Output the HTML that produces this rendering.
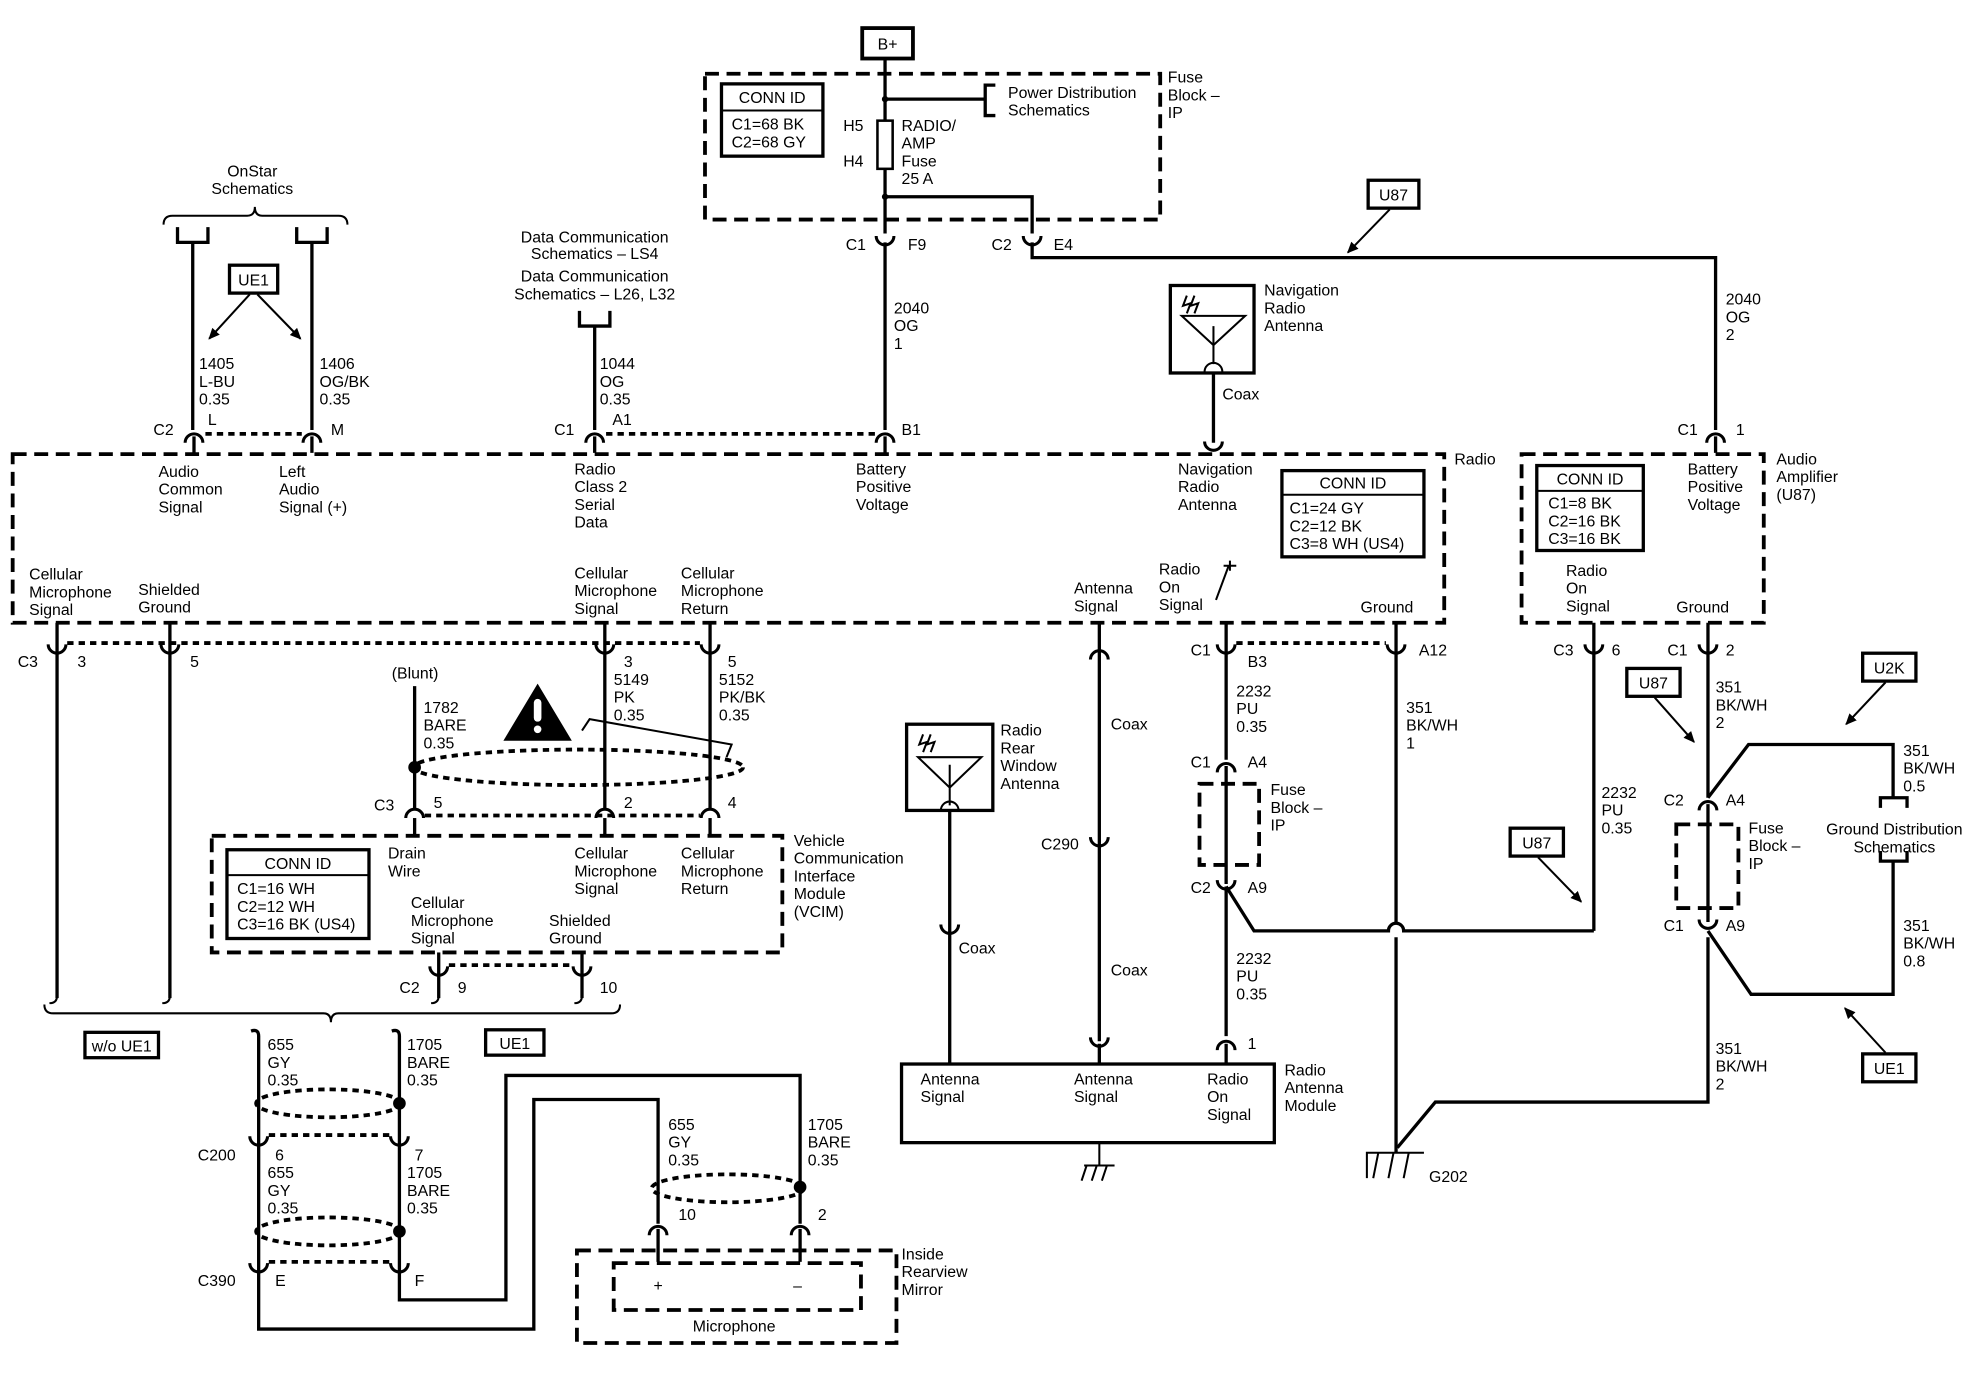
<!DOCTYPE html>
<html><head><meta charset="utf-8"><style>
html,body{margin:0;padding:0;background:#fff;}
svg{display:block;}
text{font-family:"Liberation Sans",sans-serif;font-size:12.5px;fill:#000;}
.w{stroke:#000;stroke-width:2.6;fill:none;}
.t{stroke:#000;stroke-width:1.6;fill:none;}
.d{stroke:#000;stroke-width:3;fill:none;stroke-dasharray:11,6;}
.dt{stroke:#000;stroke-width:3;fill:none;stroke-dasharray:5,4;}
.c{text-anchor:middle;}
</style></head><body>
<svg width="1988" height="1392" viewBox="0 0 1560 1092" xmlns="http://www.w3.org/2000/svg">
<defs>
<path id="up" d="M-7,5 A7,7 0 0 1 7,5" stroke="#000" stroke-width="2.4" fill="none"/>
<path id="dn" d="M-7,-5 A7,7 0 0 0 7,-5" stroke="#000" stroke-width="2.4" fill="none"/>
<marker id="ar" markerWidth="10" markerHeight="10" refX="8" refY="5" orient="auto" markerUnits="userSpaceOnUse"><path d="M0,1 L9,5 L0,9 z" fill="#000"/></marker>
</defs>
<g transform="translate(-1,-1) scale(0.995)">
<!-- B+ and fuse block -->
<rect x="681" y="23" width="40" height="24" fill="none" stroke="#000" stroke-width="3"/>
<text x="701" y="40" class="c">B+</text>
<rect x="557" y="59" width="359" height="115" class="d"/>
<text x="922" y="66">Fuse</text><text x="922" y="80">Block –</text><text x="922" y="94">IP</text>
<rect x="570" y="67" width="80" height="57" fill="none" stroke="#000" stroke-width="2.6"/>
<line x1="570" y1="88" x2="650" y2="88" class="t"/>
<text x="610" y="82" class="c">CONN ID</text>
<text x="578" y="103">C1=68 BK</text><text x="578" y="117">C2=68 GY</text>
<line x1="699" y1="47" x2="699" y2="96" class="w"/>
<line x1="699" y1="134" x2="699" y2="185" class="w"/>
<circle cx="699" cy="79" r="2.5"/>
<line x1="699" y1="79" x2="778" y2="79" class="w"/>
<path d="M786,68 L778,68 L778,92 L786,92" class="w"/>
<text x="796" y="78">Power Distribution</text><text x="796" y="92">Schematics</text>
<rect x="693" y="96" width="12" height="38" fill="none" stroke="#000" stroke-width="2"/>
<text x="666" y="104">H5</text><text x="666" y="132">H4</text>
<text x="712" y="104">RADIO/</text><text x="712" y="118">AMP</text><text x="712" y="132">Fuse</text><text x="712" y="146">25 A</text>
<circle cx="699" cy="156" r="2.5"/>
<path d="M699,156 L815,156 L815,185" class="w"/>
<use href="#dn" x="699" y="192"/><use href="#dn" x="815" y="192"/>
<text x="668" y="198">C1</text><text x="717" y="198">F9</text>
<text x="783" y="198">C2</text><text x="832" y="198">E4</text>
<line x1="699" y1="192" x2="699" y2="340" class="w"/>
<path d="M815,192 L815,204 L1354,204 L1354,340" class="w"/>
<rect x="1080" y="143" width="40" height="22" fill="none" stroke="#000" stroke-width="2.6"/>
<text x="1100" y="159" class="c">U87</text>
<line x1="1097" y1="166" x2="1064" y2="200" class="t" marker-end="url(#ar)"/>
<text x="706" y="248">2040</text><text x="706" y="262">OG</text><text x="706" y="276">1</text>
<text x="1362" y="241">2040</text><text x="1362" y="255">OG</text><text x="1362" y="269">2</text>

<!-- OnStar -->
<text x="200" y="140" class="c">OnStar</text><text x="200" y="154" class="c">Schematics</text>
<path d="M130,178 Q130,171 137,171 L196,171 Q202,171 202,164 Q202,171 208,171 L268,171 Q275,171 275,178" class="t" stroke-width="2"/>
<path d="M141,180 L141,192 L165,192 L165,180" class="w"/>
<path d="M235,180 L235,192 L259,192 L259,180" class="w"/>
<line x1="153" y1="192" x2="153" y2="340" class="w"/>
<line x1="247" y1="192" x2="247" y2="340" class="w"/>
<rect x="182" y="210" width="38" height="22" fill="none" stroke="#000" stroke-width="2.6"/>
<text x="201" y="226" class="c">UE1</text>
<line x1="198" y1="233" x2="166" y2="268" class="t" marker-end="url(#ar)"/>
<line x1="204" y1="233" x2="238" y2="268" class="t" marker-end="url(#ar)"/>
<text x="158" y="292">1405</text><text x="158" y="306">L-BU</text><text x="158" y="320">0.35</text>
<text x="253" y="292">1406</text><text x="253" y="306">OG/BK</text><text x="253" y="320">0.35</text>
<use href="#up" x="154" y="345"/><use href="#up" x="247" y="345"/>
<text x="122" y="344">C2</text><text x="165" y="336">L</text><text x="262" y="344">M</text>
<line x1="163" y1="343" x2="239" y2="343" class="dt"/>
<line x1="154" y1="345" x2="154" y2="358" class="w"/><line x1="247" y1="345" x2="247" y2="358" class="w"/>

<!-- Data comm -->
<text x="470" y="192" class="c">Data Communication</text><text x="470" y="205" class="c">Schematics – LS4</text>
<text x="470" y="223" class="c">Data Communication</text><text x="470" y="237" class="c">Schematics – L26, L32</text>
<path d="M458,246 L458,258 L482,258 L482,246" class="w"/>
<line x1="470" y1="258" x2="470" y2="340" class="w"/>
<text x="474" y="292">1044</text><text x="474" y="306">OG</text><text x="474" y="320">0.35</text>
<use href="#up" x="470" y="345"/><use href="#up" x="699" y="345"/>
<text x="438" y="344">C1</text><text x="484" y="336">A1</text><text x="712" y="344">B1</text>
<line x1="479" y1="343" x2="691" y2="343" class="dt"/>
<line x1="470" y1="345" x2="470" y2="358" class="w"/><line x1="699" y1="345" x2="699" y2="358" class="w"/>

<!-- Nav antenna -->
<rect x="924" y="226" width="66" height="69" fill="none" stroke="#000" stroke-width="2.6"/>
<path d="M933,250 L983,250 L958,273 Z M958,258 L958,288" class="t"/>
<path d="M951,294 A7,7 0 0 1 965,294" class="t" stroke-width="2"/>
<path d="M937,234 L934,242 L940,240 L937,248 M943,234 L940,242 L946,240 L943,248" class="t" stroke-width="1.5"/>
<text x="998" y="234">Navigation</text><text x="998" y="248">Radio</text><text x="998" y="262">Antenna</text>
<line x1="958" y1="295" x2="958" y2="350" class="w"/>
<text x="965" y="316">Coax</text>
<use href="#dn" x="958" y="354"/>

<!-- Radio box -->
<rect x="11" y="359" width="1129" height="133" class="d"/>
<text x="1148" y="367">Radio</text>
<text x="126" y="377">Audio</text><text x="126" y="391">Common</text><text x="126" y="405">Signal</text>
<text x="221" y="377">Left</text><text x="221" y="391">Audio</text><text x="221" y="405">Signal (+)</text>
<text x="454" y="375">Radio</text><text x="454" y="389">Class 2</text><text x="454" y="403">Serial</text><text x="454" y="417">Data</text>
<text x="676" y="375">Battery</text><text x="676" y="389">Positive</text><text x="676" y="403">Voltage</text>
<text x="930" y="375">Navigation</text><text x="930" y="389">Radio</text><text x="930" y="403">Antenna</text>
<rect x="1012" y="372" width="112" height="68" fill="none" stroke="#000" stroke-width="2.6"/>
<line x1="1012" y1="391" x2="1124" y2="391" class="t"/>
<text x="1068" y="386" class="c">CONN ID</text>
<text x="1018" y="406">C1=24 GY</text><text x="1018" y="420">C2=12 BK</text><text x="1018" y="434">C3=8 WH (US4)</text>
<text x="24" y="458">Cellular</text><text x="24" y="472">Microphone</text><text x="24" y="486">Signal</text>
<text x="110" y="470">Shielded</text><text x="110" y="484">Ground</text>
<text x="454" y="457">Cellular</text><text x="454" y="471">Microphone</text><text x="454" y="485">Signal</text>
<text x="538" y="457">Cellular</text><text x="538" y="471">Microphone</text><text x="538" y="485">Return</text>
<text x="848" y="469">Antenna</text><text x="848" y="483">Signal</text>
<text x="915" y="454">Radio</text><text x="915" y="468">On</text><text x="915" y="482">Signal</text>
<path d="M960,474 L970,447 M966,447 L976,447 M971,443 L971,451" class="t" stroke-width="1.8"/>
<text x="1074" y="484">Ground</text>

<!-- Audio amp -->
<rect x="1201" y="359" width="191" height="133" class="d"/>
<text x="1402" y="367">Audio</text><text x="1402" y="381">Amplifier</text><text x="1402" y="395">(U87)</text>
<use href="#up" x="1354" y="345"/>
<text x="1324" y="344">C1</text><text x="1370" y="344">1</text>
<line x1="1354" y1="345" x2="1354" y2="358" class="w"/>
<rect x="1213" y="368" width="84" height="67" fill="none" stroke="#000" stroke-width="2.6"/>
<line x1="1213" y1="388" x2="1297" y2="388" class="t"/>
<text x="1255" y="383" class="c">CONN ID</text>
<text x="1222" y="402">C1=8 BK</text><text x="1222" y="416">C2=16 BK</text><text x="1222" y="430">C3=16 BK</text>
<text x="1332" y="375">Battery</text><text x="1332" y="389">Positive</text><text x="1332" y="403">Voltage</text>
<text x="1236" y="455">Radio</text><text x="1236" y="469">On</text><text x="1236" y="483">Signal</text>
<text x="1323" y="484">Ground</text>

<!-- radio bottom connectors -->
<g class="w">
<line x1="46" y1="492" x2="46" y2="788"/><line x1="135" y1="492" x2="135" y2="788"/>
<line x1="478" y1="492" x2="478" y2="640"/><line x1="561" y1="492" x2="561" y2="640"/>
<line x1="868" y1="492" x2="868" y2="822"/><line x1="968" y1="492" x2="968" y2="600"/>
<line x1="1102" y1="492" x2="1102" y2="730"/><line x1="1102" y1="740" x2="1102" y2="910"/>
<line x1="1258" y1="492" x2="1258" y2="735"/><line x1="1348" y1="492" x2="1348" y2="630"/>
</g>
<use href="#dn" x="46" y="514"/><use href="#dn" x="135" y="514"/><use href="#dn" x="478" y="514"/><use href="#dn" x="561" y="514"/>
<use href="#up" x="868" y="516"/><use href="#dn" x="968" y="514"/><use href="#dn" x="1102" y="514"/>
<use href="#dn" x="1258" y="514"/><use href="#dn" x="1348" y="514"/>
<line x1="54" y1="508" x2="553" y2="508" class="dt"/>
<line x1="976" y1="508" x2="1094" y2="508" class="dt"/>
<text x="15" y="527">C3</text><text x="62" y="527">3</text><text x="151" y="527">5</text>
<text x="493" y="527">3</text><text x="575" y="527">5</text>
<text x="940" y="518">C1</text><text x="985" y="527">B3</text><text x="1120" y="518">A12</text>
<text x="1226" y="518">C3</text><text x="1272" y="518">6</text><text x="1316" y="518">C1</text><text x="1362" y="518">2</text>

<!-- blunt / shielded -->
<text x="310" y="536">(Blunt)</text>
<line x1="328" y1="542" x2="328" y2="640" class="w"/>
<text x="335" y="563">1782</text><text x="335" y="577">BARE</text><text x="335" y="591">0.35</text>
<text x="485" y="541">5149</text><text x="485" y="555">PK</text><text x="485" y="569">0.35</text>
<text x="568" y="541">5152</text><text x="568" y="555">PK/BK</text><text x="568" y="569">0.35</text>
<ellipse cx="457" cy="606" rx="130" ry="14" class="dt"/>
<circle cx="328" cy="606" r="5"/>
<path d="M425,540 L452,585 L398,585 Z"/>
<rect x="422" y="552" width="6" height="18" rx="3" fill="#fff"/><circle cx="425" cy="576" r="3" fill="#fff"/>
<path d="M460,577 L466,568 L578,588 L574,598" class="t" stroke-width="2"/>
<use href="#up" x="328" y="641"/><use href="#up" x="478" y="641"/><use href="#up" x="561" y="641"/>
<line x1="336" y1="644" x2="553" y2="644" class="dt"/>
<text x="296" y="640">C3</text><text x="343" y="638">5</text><text x="493" y="638">2</text><text x="575" y="638">4</text>
<line x1="328" y1="646" x2="328" y2="660" class="w"/><line x1="478" y1="646" x2="478" y2="660" class="w"/><line x1="561" y1="646" x2="561" y2="660" class="w"/>

<!-- VCIM -->
<rect x="168" y="660" width="450" height="92" class="d"/>
<text x="627" y="668">Vehicle</text><text x="627" y="682">Communication</text><text x="627" y="696">Interface</text><text x="627" y="710">Module</text><text x="627" y="724">(VCIM)</text>
<rect x="180" y="671" width="112" height="70" fill="none" stroke="#000" stroke-width="2.6"/>
<line x1="180" y1="691" x2="292" y2="691" class="t"/>
<text x="236" y="686" class="c">CONN ID</text>
<text x="188" y="706">C1=16 WH</text><text x="188" y="720">C2=12 WH</text><text x="188" y="734">C3=16 BK (US4)</text>
<text x="307" y="678">Drain</text><text x="307" y="692">Wire</text>
<text x="454" y="678">Cellular</text><text x="454" y="692">Microphone</text><text x="454" y="706">Signal</text>
<text x="538" y="678">Cellular</text><text x="538" y="692">Microphone</text><text x="538" y="706">Return</text>
<text x="325" y="717">Cellular</text><text x="325" y="731">Microphone</text><text x="325" y="745">Signal</text>
<text x="434" y="731">Shielded</text><text x="434" y="745">Ground</text>
<line x1="347" y1="752" x2="347" y2="788" class="w"/><line x1="460" y1="752" x2="460" y2="788" class="w"/>
<use href="#dn" x="347" y="768"/><use href="#dn" x="460" y="768"/>
<line x1="355" y1="762" x2="452" y2="762" class="dt"/>
<text x="316" y="784">C2</text><text x="362" y="784">9</text><text x="474" y="784">10</text>
<path d="M40,792 Q46,792 46,786 M129,792 Q135,792 135,786 M341,792 Q347,792 347,786 M454,792 Q460,792 460,786" class="t" stroke-width="2"/>
<path d="M36,793 Q36,800 43,800 L256,800 Q262,800 262,807 Q262,800 268,800 L483,800 Q490,800 490,793" class="t" stroke-width="2"/>
<rect x="68" y="815" width="58" height="20" fill="none" stroke="#000" stroke-width="2.6"/>
<text x="97" y="830" class="c">w/o UE1</text>
<rect x="384" y="813" width="46" height="20" fill="none" stroke="#000" stroke-width="2.6"/>
<text x="407" y="828" class="c">UE1</text>

<!-- lower left harness -->
<path d="M199,814 Q205,812 205,818 L205,1049 L422,1049 L422,868 L520,868 L520,966" class="w"/>
<path d="M310,814 Q316,812 316,818 L316,1026 L400,1026 L400,849 L632,849 L632,966" class="w"/>
<text x="212" y="829">655</text><text x="212" y="843">GY</text><text x="212" y="857">0.35</text>
<text x="322" y="829">1705</text><text x="322" y="843">BARE</text><text x="322" y="857">0.35</text>
<ellipse cx="260" cy="871" rx="57" ry="11" class="dt"/><circle cx="316" cy="871" r="5"/>
<use href="#dn" x="205" y="902"/><use href="#dn" x="316" y="902"/>
<line x1="213" y1="896" x2="308" y2="896" class="dt"/>
<text x="157" y="916">C200</text><text x="218" y="916">6</text><text x="328" y="916">7</text>
<text x="212" y="930">655</text><text x="212" y="944">GY</text><text x="212" y="958">0.35</text>
<text x="322" y="930">1705</text><text x="322" y="944">BARE</text><text x="322" y="958">0.35</text>
<ellipse cx="260" cy="972" rx="57" ry="11" class="dt"/><circle cx="316" cy="972" r="5"/>
<use href="#dn" x="205" y="1002"/><use href="#dn" x="316" y="1002"/>
<line x1="213" y1="996" x2="308" y2="996" class="dt"/>
<text x="157" y="1015">C390</text><text x="218" y="1015">E</text><text x="328" y="1015">F</text>
<text x="528" y="892">655</text><text x="528" y="906">GY</text><text x="528" y="920">0.35</text>
<text x="638" y="892">1705</text><text x="638" y="906">BARE</text><text x="638" y="920">0.35</text>
<ellipse cx="575" cy="938" rx="60" ry="11" class="dt"/><circle cx="632" cy="937" r="5"/>
<use href="#up" x="520" y="970"/><use href="#up" x="632" y="970"/>
<text x="536" y="963">10</text><text x="646" y="963">2</text>
<line x1="520" y1="970" x2="520" y2="996" class="w"/><line x1="632" y1="970" x2="632" y2="996" class="w"/>
<rect x="456" y="987" width="252" height="73" class="d"/>
<rect x="485" y="997" width="195" height="37" class="d"/>
<text x="712" y="994">Inside</text><text x="712" y="1008">Rearview</text><text x="712" y="1022">Mirror</text>
<text x="520" y="1019" class="c">+</text><text x="630" y="1019" class="c">–</text>
<text x="580" y="1051" class="c">Microphone</text>

<!-- rear window antenna -->
<rect x="716" y="572" width="68" height="68" fill="none" stroke="#000" stroke-width="2.6"/>
<path d="M725,598 L775,598 L750,622 Z M750,604 L750,636" class="t"/>
<path d="M743,640 A7,7 0 0 1 757,640" class="t" stroke-width="2"/>
<path d="M729,580 L726,588 L732,586 L729,594 M735,580 L732,588 L738,586 L735,594" class="t" stroke-width="1.5"/>
<text x="790" y="581">Radio</text><text x="790" y="595">Rear</text><text x="790" y="609">Window</text><text x="790" y="623">Antenna</text>
<line x1="750" y1="640" x2="750" y2="840" class="w"/>
<use href="#dn" x="750" y="735"/>
<text x="757" y="753">Coax</text>
<text x="877" y="576">Coax</text>
<use href="#dn" x="868" y="666"/><text x="822" y="671">C290</text>
<text x="877" y="770">Coax</text>
<use href="#dn" x="868" y="824"/>
<line x1="868" y1="824" x2="868" y2="840" class="w"/>
<rect x="712" y="840" width="294" height="62" fill="none" stroke="#000" stroke-width="2.6"/>
<text x="727" y="856">Antenna</text><text x="727" y="870">Signal</text>
<text x="848" y="856">Antenna</text><text x="848" y="870">Signal</text>
<text x="953" y="856">Radio</text><text x="953" y="870">On</text><text x="953" y="884">Signal</text>
<text x="1014" y="849">Radio</text><text x="1014" y="863">Antenna</text><text x="1014" y="877">Module</text>
<path d="M868,902 L868,920 M856,920 L880,920 M858,920 L854,932 M866,920 L862,932 M874,920 L870,932" class="t" stroke-width="2"/>

<!-- 968 wire -->
<text x="976" y="550">2232</text><text x="976" y="564">PU</text><text x="976" y="578">0.35</text>
<use href="#up" x="968" y="605"/>
<text x="940" y="606">C1</text><text x="985" y="606">A4</text>
<rect x="947" y="619" width="47" height="64" class="d"/>
<line x1="968" y1="605" x2="968" y2="698" class="w"/>
<text x="1003" y="628">Fuse</text><text x="1003" y="642">Block –</text><text x="1003" y="656">IP</text>
<use href="#dn" x="968" y="700"/>
<text x="940" y="705">C2</text><text x="985" y="705">A9</text>
<path d="M968,700 L990,735 L1096,735 A6,6 0 0 1 1108,735 L1258,735" class="w"/>
<line x1="968" y1="700" x2="968" y2="818" class="w"/>
<text x="976" y="761">2232</text><text x="976" y="775">PU</text><text x="976" y="789">0.35</text>
<use href="#up" x="968" y="824"/><text x="985" y="828">1</text>
<line x1="968" y1="824" x2="968" y2="840" class="w"/>

<!-- ground G202 -->
<text x="1110" y="563">351</text><text x="1110" y="577">BK/WH</text><text x="1110" y="591">1</text>
<path d="M1348,740 L1348,870 L1133,870 L1103,906" class="w"/>
<path d="M1079,930 L1079,910 L1124,910 M1088,910 L1084,930 M1100,910 L1096,930 M1112,910 L1108,930" class="t" stroke-width="2"/>
<text x="1128" y="933">G202</text>
<text x="1264" y="630">2232</text><text x="1264" y="644">PU</text><text x="1264" y="658">0.35</text>
<rect x="1192" y="654" width="42" height="22" fill="none" stroke="#000" stroke-width="2.6"/>
<text x="1213" y="670" class="c">U87</text>
<line x1="1214" y1="677" x2="1248" y2="712" class="t" marker-end="url(#ar)"/>

<!-- right side amplifier ground -->
<text x="1354" y="547">351</text><text x="1354" y="561">BK/WH</text><text x="1354" y="575">2</text>
<rect x="1284" y="528" width="42" height="22" fill="none" stroke="#000" stroke-width="2.6"/>
<text x="1305" y="544" class="c">U87</text>
<line x1="1306" y1="551" x2="1337" y2="586" class="t" marker-end="url(#ar)"/>
<rect x="1470" y="516" width="42" height="22" fill="none" stroke="#000" stroke-width="2.6"/>
<text x="1491" y="532" class="c">U2K</text>
<line x1="1488" y1="539" x2="1457" y2="572" class="t" marker-end="url(#ar)"/>
<path d="M1348,630 L1380,588 L1494,588 L1494,630" class="w"/>
<text x="1502" y="597">351</text><text x="1502" y="611">BK/WH</text><text x="1502" y="625">0.5</text>
<path d="M1484,638 L1484,630 L1505,630 L1505,638" class="w"/>
<text x="1495" y="659" class="c">Ground Distribution</text><text x="1495" y="673" class="c">Schematics</text>
<path d="M1484,672 L1484,680 L1505,680 L1505,672" class="w"/>
<path d="M1494,680 L1494,785 L1382,785 L1348,735" class="w"/>
<text x="1502" y="735">351</text><text x="1502" y="749">BK/WH</text><text x="1502" y="763">0.8</text>
<use href="#up" x="1348" y="635"/>
<text x="1313" y="636">C2</text><text x="1362" y="636">A4</text>
<rect x="1323" y="651" width="49" height="66" class="d"/>
<line x1="1348" y1="635" x2="1348" y2="728" class="w"/>
<text x="1380" y="658">Fuse</text><text x="1380" y="672">Block –</text><text x="1380" y="686">IP</text>
<use href="#dn" x="1348" y="731"/>
<text x="1313" y="735">C1</text><text x="1362" y="735">A9</text>
<rect x="1470" y="832" width="42" height="22" fill="none" stroke="#000" stroke-width="2.6"/>
<text x="1491" y="848" class="c">UE1</text>
<line x1="1488" y1="831" x2="1456" y2="796" class="t" marker-end="url(#ar)"/>
<text x="1354" y="832">351</text><text x="1354" y="846">BK/WH</text><text x="1354" y="860">2</text>
</g>
</svg>
</body></html>
